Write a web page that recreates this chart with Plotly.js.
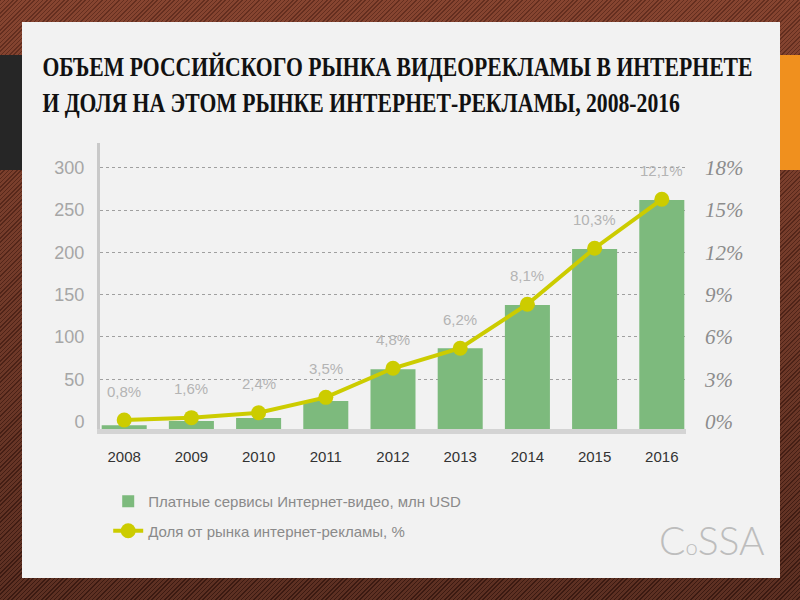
<!DOCTYPE html>
<html>
<head>
<meta charset="utf-8">
<script src="https://cdn.plot.ly/plotly-3.0.1.min.js"></script>
<style>
  body { margin: 0; width: 800px; height: 600px; overflow: hidden; position: relative;
    background:
      linear-gradient(to bottom, rgba(150, 70, 45, 0.35), rgba(30, 10, 5, 0.35)),
      repeating-linear-gradient(135deg, #4a2218 0px, #4a2218 1px, #7e4432 1px, #7e4432 3px);
  }
  #darkTab { position: absolute; left: 0; top: 55px; width: 22px; height: 115px; background: #262626; }
  #orangeTab { position: absolute; left: 780px; top: 55px; width: 20px; height: 115px; background: #f0901e; }
  #panel { position: absolute; left: 22px; top: 22px; width: 758px; height: 556px; background: #f2f2f2; }
  #chart { position: absolute; left: 0; top: 0; width: 800px; height: 600px; }
  /* узкий заголовок, как в оригинале */
  #chart .gtitle { transform-box: fill-box; transform-origin: 0 50%; transform: scaleX(0.775); }
</style>
</head>
<body>
<div id="darkTab"></div>
<div id="orangeTab"></div>
<div id="panel"></div>
<div id="chart"></div>
<script>
  // годы
  const years = ["2008", "2009", "2010", "2011", "2012", "2013", "2014", "2015", "2016"];
  // платные сервисы интернет-видео, млн USD (высота столбцов от основания)
  const videoUsd = [4.4, 9.5, 13, 33, 70.5, 95.4, 146.5, 212.7, 270.6];
  // доля от рынка интернет-рекламы: положение точек по правой шкале, %
  const shareLevel = [0.11, 0.28, 0.63, 1.72, 3.78, 5.2, 8.32, 12.29, 15.76];
  // подписи точек
  const shareText = ["0,8%", "1,6%", "2,4%", "3,5%", "4,8%", "6,2%", "8,1%", "10,3%", "12,1%"];
  // деления шкал
  const leftTicks = [0, 50, 100, 150, 200, 250, 300];
  const rightTicks = [0, 3, 6, 9, 12, 15, 18];

  const sans = "Liberation Sans, Arial, sans-serif";
  const floorLevel = -8.7; // столбцы стоят на серой полосе оси

  const traceVideo = {
    x: years,
    y: videoUsd,
    base: floorLevel,
    name: "Платные сервисы Интернет-видео, млн USD",
    type: "bar",
    width: 0.67,
    marker: { color: "#7dba7d" },
    legendgroup: "a",
    hoverinfo: "skip"
  };
  const traceShare = {
    x: years,
    y: shareLevel,
    name: "Доля от рынка интернет-рекламы, %",
    type: "scatter",
    mode: "lines+markers",
    yaxis: "y2",
    line: { color: "#cccc00", width: 4 },
    marker: { color: "#cccc00", size: 15 },
    legendgroup: "b",
    hoverinfo: "skip"
  };

  // подписи над точками (x — номер категории)
  const notes = years.map(function(yr, i) {
    return {
      x: i, y: shareLevel[i], xref: "x", yref: "y2",
      text: shareText[i], showarrow: false, yshift: 29,
      xanchor: "center", yanchor: "middle",
      font: { family: sans, size: 15, color: "#b4b4b4" }
    };
  });

  notes.push({
    xref: "paper", yref: "paper", x: 1.044, y: -0.388,
    xanchor: "center", yanchor: "middle",
    text: "C<span style='font-size:22px'>o</span>SSA", showarrow: false,
    font: { family: "Lato, Open Sans, sans-serif", size: 39, color: "#bdbdbd", weight: 300 }
  });

  const layout = {
    width: 800,
    height: 600,
    margin: { l: 100, r: 114, t: 143, b: 171 },
    paper_bgcolor: "rgba(0,0,0,0)",
    plot_bgcolor: "rgba(0,0,0,0)",
    title: {
      text: "ОБЪЕМ РОССИЙСКОГО РЫНКА ВИДЕОРЕКЛАМЫ В ИНТЕРНЕТЕ<br>И ДОЛЯ НА ЭТОМ РЫНКЕ ИНТЕРНЕТ-РЕКЛАМЫ, 2008-2016",
      x: 0.053, xanchor: "left", xref: "container",
      y: 0.874, yanchor: "top", yref: "container",
      font: { family: "Liberation Serif, serif", size: 28, color: "#111", weight: 700 }
    },
    xaxis: {
      type: "category",
      range: [-0.36, 8.36],
      showline: true, linecolor: "#d4d4d4", linewidth: 5,
      showgrid: false, ticks: "",
      ticklabelstandoff: 10,
      tickfont: { family: sans, size: 15, color: "#333" }
    },
    yaxis: {
      range: [-8.74, 329.2],
      tickvals: leftTicks,
      showline: true, linecolor: "#c9c9c9", linewidth: 3,
      showgrid: true, gridcolor: "#a0a0a0", gridwidth: 1, griddash: "3px,3px",
      zeroline: true, zerolinecolor: "rgba(0,0,0,0)",
      ticks: "", ticklabelstandoff: 9,
      tickfont: { family: sans, size: 18, color: "#a6a6a6" }
    },
    yaxis2: {
      overlaying: "y", side: "right",
      range: [-0.525, 19.75],
      tickvals: rightTicks,
      ticktext: rightTicks.map(function(v) { return v + "%"; }),
      showgrid: false, zeroline: false, showline: false,
      ticks: "", ticklabelstandoff: 18,
      tickfont: { family: "Liberation Serif, serif", size: 21, color: "#8c8c8c", style: "italic" }
    },
    showlegend: true,
    legend: {
      x: 0.014, xanchor: "left", y: -0.196, yanchor: "top",
      orientation: "v", traceorder: "grouped", tracegroupgap: 7,
      bgcolor: "rgba(0,0,0,0)",
      font: { family: sans, size: 15, color: "#8a8a8a" }
    },
    annotations: notes,
    bargap: 0.33
  };

  Plotly.newPlot("chart", [traceVideo, traceShare], layout, { displayModeBar: false, staticPlot: true });
</script>
</body>
</html>
